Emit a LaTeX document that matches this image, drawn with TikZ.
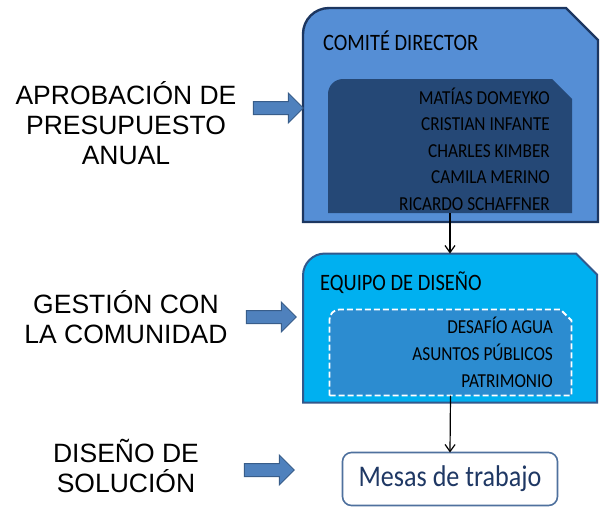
\documentclass[tikz,border=0pt]{standalone}
\usepackage{fontspec}
\setmainfont{Liberation Sans}
\newfontfamily\cuadro[FakeStretch=0.87]{Carlito}
\usetikzlibrary{shapes,arrows.meta}

\definecolor{comiteazul}{RGB}{85,142,213}
\definecolor{comiteosc}{RGB}{37,72,118}
\definecolor{bordeazul}{RGB}{28,54,96}
\definecolor{equipocian}{RGB}{0,176,240}
\definecolor{equipoint}{RGB}{44,140,208}
\definecolor{equipoborde}{RGB}{50,88,140}
\definecolor{flechaazul}{RGB}{79,129,189}
\definecolor{flechaborde}{RGB}{56,93,138}
\definecolor{mesasborde}{RGB}{79,113,158}
\definecolor{mesastexto}{RGB}{31,56,100}

\tikzstyle{caja} = [rectangle, inner sep=0pt, outer sep=0pt]
\tikzstyle{etapa} = [align=center, inner sep=0pt,
    font=\fontsize{26.5}{30}\selectfont]
\tikzstyle{etapaflecha} = [single arrow, draw=flechaborde, fill=flechaazul,
    line width=1pt, minimum height=50pt, inner sep=6pt,
    single arrow head extend=8.5pt]
\tikzstyle{titulo} = [anchor=base west, inner sep=0pt,
    font=\cuadro\fontsize{23.5}{28}\selectfont]
\tikzstyle{miembro} = [anchor=base east, inner sep=0pt,
    font=\cuadro\fontsize{19.8}{24}\selectfont]

% outline with a rounded top-left corner and a cut top-right corner
\newcommand{\cajarecortada}[4]{%
  \path[#4] (#1.south west) -- ([yshift=-#2]#1.north west)
    arc[start angle=180, end angle=90, radius=#2]
    -- ([xshift=-#3]#1.north east) -- ([yshift=-#3]#1.north east)
    -- (#1.south east) -- cycle;}

\begin{document}
\begin{tikzpicture}[x=1pt, y=-1pt, >={Straight Barb[length=7pt,width=10pt]}]
    \useasboundingbox (0,0) rectangle (600,507);

    % We start by placing the (empty) boxes
    \node [caja, minimum width=295pt, minimum height=214pt] (comite) at (450.5,115) {};
    \node [caja, minimum width=244pt, minimum height=134pt] (comiteIn) at (450,146) {};
    \node [caja, minimum width=294pt, minimum height=149pt] (equipo) at (450,328) {};
    \node [caja, minimum width=242pt, minimum height=86pt] (equipoIn) at (450.5,352.5) {};

    % Then we paint their outlines
    \cajarecortada{comite}{26pt}{32pt}{fill=comiteazul, draw=bordeazul, line width=2.4pt}
    \cajarecortada{comiteIn}{15pt}{20pt}{fill=comiteosc}
    \cajarecortada{equipo}{22pt}{21pt}{fill=equipocian, draw=equipoborde, line width=2pt}
    \cajarecortada{equipoIn}{10pt}{11pt}{fill=equipoint, draw=white, line width=1.8pt,
        dash pattern=on 6pt off 3pt}

    % Texts inside the boxes
    \node [titulo] (comiteTitulo) at (323,50) {COMITÉ DIRECTOR};
    \foreach \nombre [count=\i] in {MATÍAS DOMEYKO, CRISTIAN INFANTE,
        CHARLES KIMBER, CAMILA MERINO, RICARDO SCHAFFNER}
        \node [miembro] (miembro\i) at (550,{104+26.5*(\i-1)}) {\nombre};

    \node [titulo] (equipoTitulo) at (320,290) {EQUIPO DE DISEÑO};
    \foreach \area [count=\i] in {DESAFÍO AGUA, ASUNTOS PÚBLICOS, PATRIMONIO}
        \node [miembro] (area\i) at (553,{333+27*(\i-1)}) {\area};

    \node [caja, draw=mesasborde, fill=white, line width=1.6pt, rounded corners=9pt,
        minimum width=215pt, minimum height=53pt, text=mesastexto,
        font=\cuadro\fontsize{30}{34}\selectfont] (mesas) at (450,479) {Mesas de trabajo};

    % Stages on the left (base = last line), each one with its block arrow
    \node [etapa, anchor=base] (aprobacion) at (126,164) {APROBACIÓN DE\\PRESUPUESTO\\ANUAL};
    \node [etapa, anchor=base] (gestion) at (126,343) {GESTIÓN CON\\LA COMUNIDAD};
    \node [etapa, anchor=base] (diseno) at (126,492) {DISEÑO DE\\SOLUCIÓN};

    \node [etapaflecha] (flechaAprobacion) at (275,108) {};
    \node [etapaflecha] (flechaGestion) at (268,317) {};
    \node [etapaflecha] (flechaDiseno) at (266,470) {};

    % Connecting the boxes
    \draw [->, line width=1.2pt] (comiteIn.south) -- (equipo.north);
    \draw [->, line width=1.2pt] (equipoIn.south) -- (mesas.north);
\end{tikzpicture}
\end{document}
